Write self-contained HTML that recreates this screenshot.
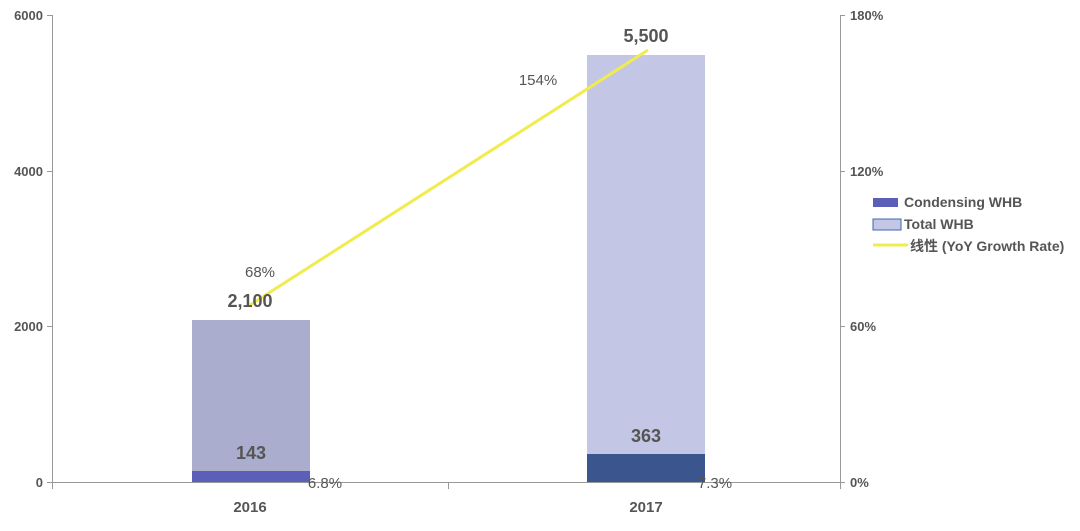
<!DOCTYPE html>
<html><head><style>
body{margin:0;background:#fff;}
svg text{font-family:"Liberation Sans","Noto Sans CJK SC",sans-serif;}
</style></head><body>
<svg width="1080" height="526" xmlns="http://www.w3.org/2000/svg">
<rect width="1080" height="526" fill="#fff"/>
<g stroke="#999" stroke-width="1">
<line x1="52.5" y1="15" x2="52.5" y2="482"/>
<line x1="840.5" y1="15" x2="840.5" y2="482"/>
<line x1="52" y1="482.5" x2="840" y2="482.5"/>
<line x1="47" y1="15.5" x2="52" y2="15.5"/><line x1="47" y1="171.5" x2="52" y2="171.5"/><line x1="47" y1="326.5" x2="52" y2="326.5"/><line x1="47" y1="482.5" x2="52" y2="482.5"/>
<line x1="840" y1="15.5" x2="845" y2="15.5"/><line x1="840" y1="171.5" x2="845" y2="171.5"/><line x1="840" y1="326.5" x2="845" y2="326.5"/><line x1="840" y1="482.5" x2="845" y2="482.5"/>
<line x1="448.5" y1="482" x2="448.5" y2="489"/><line x1="52.5" y1="482" x2="52.5" y2="489"/><line x1="840.5" y1="482" x2="840.5" y2="489"/>
</g>
<g font-size="13" font-weight="bold" fill="#555" text-anchor="end">
<text x="43" y="20">6000</text><text x="43" y="176">4000</text><text x="43" y="331">2000</text><text x="43" y="487">0</text>
</g>
<g font-size="13" font-weight="bold" fill="#555">
<text x="850" y="20">180%</text><text x="850" y="176">120%</text><text x="850" y="331">60%</text><text x="850" y="487">0%</text>
</g>
<rect x="192" y="320" width="118" height="162" fill="#abadcf"/>
<rect x="192" y="471" width="118" height="11" fill="#5b5fb8"/>
<rect x="587" y="55" width="118" height="427" fill="#c3c6e5"/>
<rect x="587" y="454" width="118" height="28" fill="#3b558f"/>
<line x1="250" y1="305" x2="648" y2="50" stroke="#f0ec50" stroke-width="3"/>
<g font-size="18" font-weight="bold" fill="#555" text-anchor="middle">
<text x="250" y="307">2,100</text><text x="646" y="42">5,500</text>
<text x="251" y="459">143</text><text x="646" y="442">363</text>
<text x="250" y="512" font-size="15">2016</text><text x="646" y="512" font-size="15">2017</text>
</g>
<g font-size="15" fill="#555" text-anchor="middle">
<text x="260" y="277">68%</text><text x="538" y="85">154%</text>
<text x="325" y="488">6.8%</text><text x="715" y="488">7.3%</text>
</g>
<rect x="873" y="198" width="25" height="9" fill="#5b5fb8"/>
<rect x="873" y="219" width="28" height="11" fill="#c3c6e5" stroke="#3b6ab0" stroke-width="1"/>
<line x1="873" y1="245" x2="908" y2="245" stroke="#f0ec50" stroke-width="3"/>
<g font-size="14" font-weight="bold" fill="#555">
<text x="904" y="207">Condensing WHB</text>
<text x="904" y="229">Total WHB</text>
<text x="910" y="251">线性 (YoY Growth Rate)</text>
</g>
</svg>
</body></html>
